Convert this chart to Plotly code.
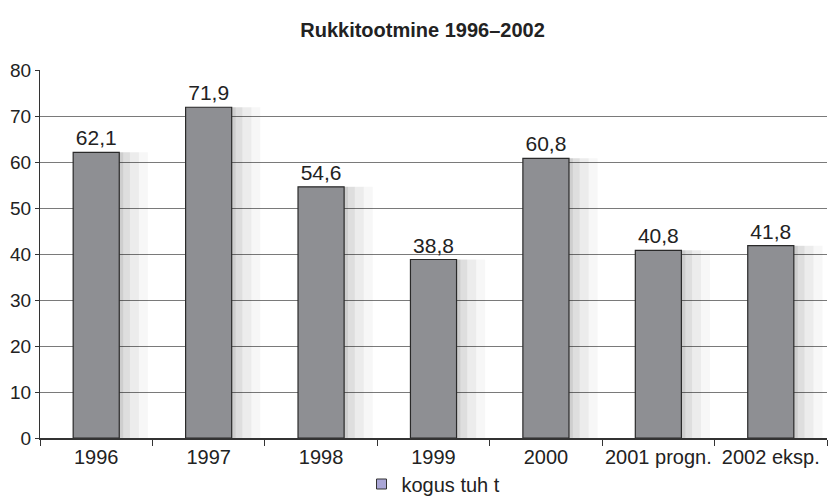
import plotly.graph_objects as go

years = ['1996', '1997', '1998', '1999', '2000', '2001 progn.', '2002 eksp.']
kogus = [62.1, 71.9, 54.6, 38.8, 60.8, 40.8, 41.8]
labels = ['62,1', '71,9', '54,6', '38,8', '60,8', '40,8', '41,8']

FONT = 'Liberation Sans Narrow, Arial Narrow, Liberation Sans, sans-serif'

fig = go.Figure()

# soft shadow to the right of each bar (a few layered translucent bars)
for w, a in [(0.66, 0.03), (0.58, 0.045), (0.5, 0.06), (0.44, 0.07)]:
    fig.add_trace(go.Bar(
        x=years, y=kogus, width=w, offset=-0.2,
        marker=dict(color=f'rgba(0,0,0,{a})', line=dict(width=0)),
        showlegend=False, hoverinfo='skip'
    ))

fig.add_trace(go.Bar(
    x=years, y=kogus, width=0.41, offset=-0.205,
    marker=dict(color='#8e8f93', line=dict(color='#2a2a2a', width=1.2)),
    text=labels, textposition='outside', cliponaxis=False,
    textfont=dict(size=21, color='#222'),
    showlegend=False, name='kogus tuh t'
))

# legend entry
fig.add_trace(go.Scatter(
    x=[None], y=[None], mode='markers', name='kogus tuh t',
    marker=dict(symbol='square', size=10, color='#aaa6d6',
                line=dict(color='#333', width=1))
))

fig.update_layout(
    width=829, height=489,
    barmode='overlay',
    paper_bgcolor='white', plot_bgcolor='white',
    font=dict(family=FONT, size=20, color='#222'),
    title=dict(text='<b>Rukkitootmine 1996–2002</b>', x=0.5, xanchor='center',
               y=0.955, yanchor='middle', font=dict(size=20, color='#222')),
    margin=dict(l=32, r=10, t=62, b=59, autoexpand=False),
    showlegend=True,
    legend=dict(orientation='h', x=0.5, xanchor='center', y=-0.125, yanchor='middle',
                font=dict(size=20), itemwidth=30, bgcolor='rgba(0,0,0,0)'),
)

fig.update_yaxes(range=[0, 80], dtick=10, showgrid=True, gridcolor='#7a7a7a',
                 gridwidth=1, showline=True, linecolor='#333', linewidth=1,
                 ticks='outside', ticklen=4, tickcolor='#333', zeroline=False,
                 tickfont=dict(size=19), automargin=False)
fig.update_xaxes(showline=True, linecolor='#333', linewidth=1.5,
                 ticks='outside', ticklen=6, tickcolor='#333', tickangle=0,
                 tickson='boundaries', tickfont=dict(size=20), automargin=False)

fig.write_html('out.html')
